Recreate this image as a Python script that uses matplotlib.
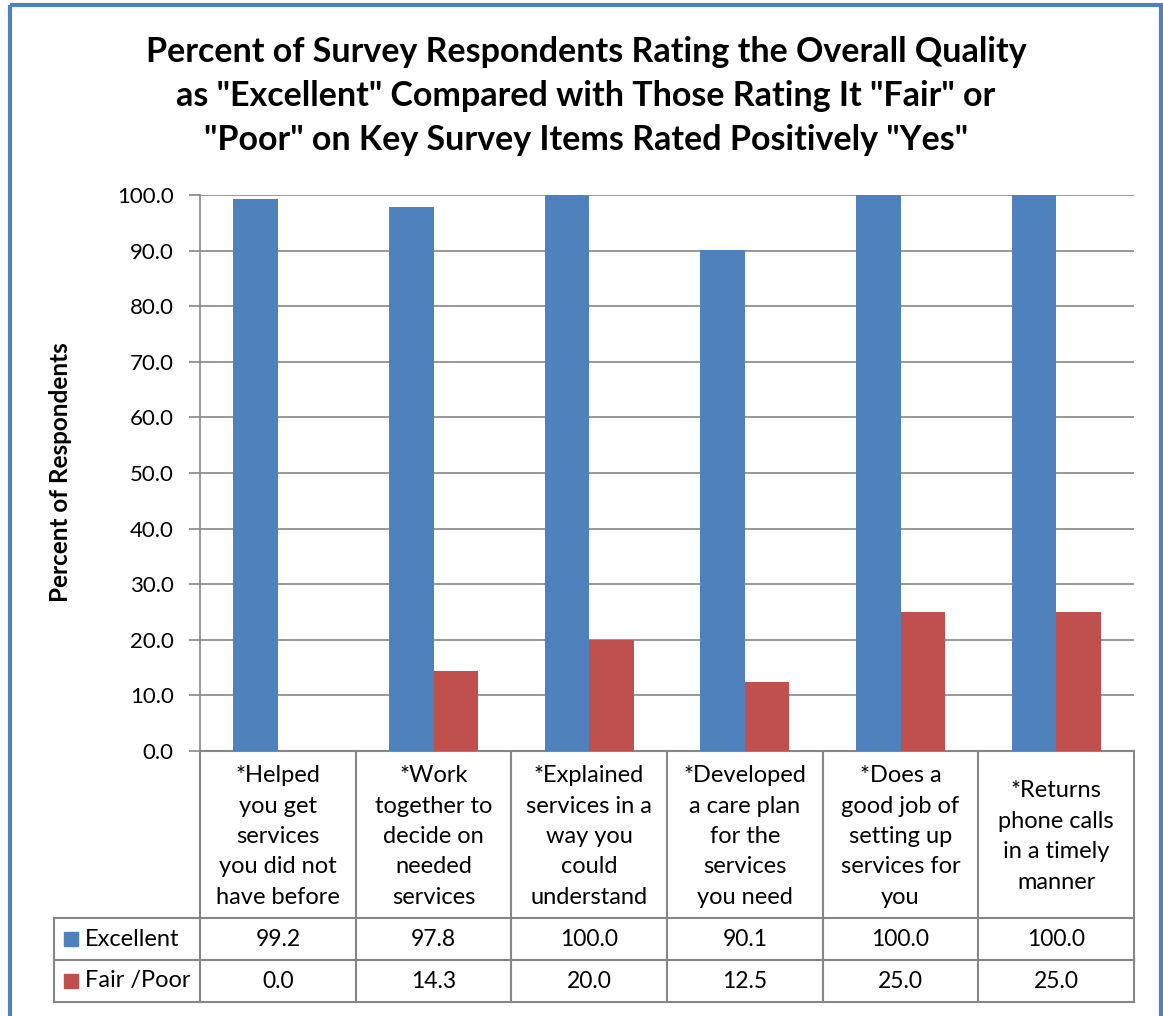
import matplotlib.pyplot as plt
import numpy as np
from matplotlib.patches import Rectangle

plt.rcParams['font.family'] = ['Lato', 'DejaVu Sans']

categories = ["*Helped\nyou get\nservices\nyou did not\nhave before",
              "*Work\ntogether to\ndecide on\nneeded\nservices",
              "*Explained\nservices in a\nway you\ncould\nunderstand",
              "*Developed\na care plan\nfor the\nservices\nyou need",
              "*Does a\ngood job of\nsetting up\nservices for\nyou",
              "*Returns\nphone calls\nin a timely\nmanner"]
series_names = ["Excellent", "Fair /Poor"]
excellent = [99.2, 97.8, 100.0, 90.1, 100.0, 100.0]
fair_poor = [0.0, 14.3, 20.0, 12.5, 25.0, 25.0]
colors = ['#4F81BD', '#C0504D']
title = ('Percent of Survey Respondents Rating the Overall Quality\n'
         'as "Excellent" Compared with Those Rating It "Fair" or\n'
         '"Poor" on Key Survey Items Rated Positively "Yes"')

W, H = 1163, 1016
grid_c = '#868686'

fig = plt.figure(figsize=(W / 100, H / 100), dpi=100)

# plot area in pixel terms
px_l, px_r, px_t, px_b = 200, 1134, 195, 751
ax = fig.add_axes([px_l / W, 1 - px_b / H, (px_r - px_l) / W, (px_b - px_t) / H])

x = np.arange(len(categories))
bw = 0.285
ax.bar(x - bw / 2, excellent, bw, color=colors[0], zorder=3)
ax.bar(x + bw / 2, fair_poor, bw, color=colors[1], zorder=3)
ax.set_xlim(-0.5, len(categories) - 0.5)
ax.set_ylim(0, 100)
yt = np.arange(0, 101, 10)
ax.set_yticks(yt)
ax.set_yticklabels([f'{v:.1f}' for v in yt], fontsize=16)
ax.set_xticks([])
ax.yaxis.grid(True, color=grid_c, lw=1.2)
ax.set_axisbelow(True)
for s in ['top', 'right']:
    ax.spines[s].set_visible(False)
ax.spines['left'].set_color(grid_c)
ax.spines['bottom'].set_color(grid_c)
ax.spines['left'].set_linewidth(1.2)
ax.spines['bottom'].set_linewidth(1.5)
ax.tick_params(axis='y', length=8, width=1.2, color=grid_c, pad=11)

fig.text(60 / W, 1 - 472 / H, 'Percent of Respondents', rotation=90,
         ha='center', va='center', fontsize=17.5, fontweight='bold')
fig.text(586 / W, 1 - 96 / H, title, ha='center', va='center',
         fontsize=24.5, fontweight='bold', linespacing=1.48)

# overlay in pixel coords for table + border
ov = fig.add_axes([0, 0, 1, 1])
ov.set_xlim(0, W)
ov.set_ylim(H, 0)
ov.axis('off')

colw = (px_r - px_l) / len(categories)
row_y = [918, 960, 1002]
lkw = dict(color=grid_c, lw=1.5)
for i in range(len(categories) + 1):
    xx = px_l + i * colw
    ov.plot([xx, xx], [px_b, row_y[-1]], **lkw)
ov.plot([54, 54], [row_y[0], row_y[-1]], **lkw)
for yy in row_y:
    ov.plot([54, px_r], [yy, yy], **lkw)

for i, lab in enumerate(categories):
    cx = px_l + (i + 0.5) * colw
    ov.text(cx, (px_b + row_y[0]) / 2 + 2, lab, ha='center', va='center',
            multialignment='center', fontsize=17, linespacing=1.55)

for r, (name, vals) in enumerate(zip(series_names, [excellent, fair_poor])):
    cy = (row_y[r] + row_y[r + 1]) / 2
    ov.add_patch(Rectangle((64, cy - 7), 14, 14, color=colors[r]))
    ov.text(85, cy, name, ha='left', va='center', fontsize=17)
    for i, v in enumerate(vals):
        ov.text(px_l + (i + 0.5) * colw, cy, f'{v:.1f}', ha='center',
                va='center', fontsize=16.5)

ov.add_patch(Rectangle((10, 5), 1151, 1100, fill=False, edgecolor='#4F81BD', lw=3))

fig.savefig('out.png', dpi=100)
